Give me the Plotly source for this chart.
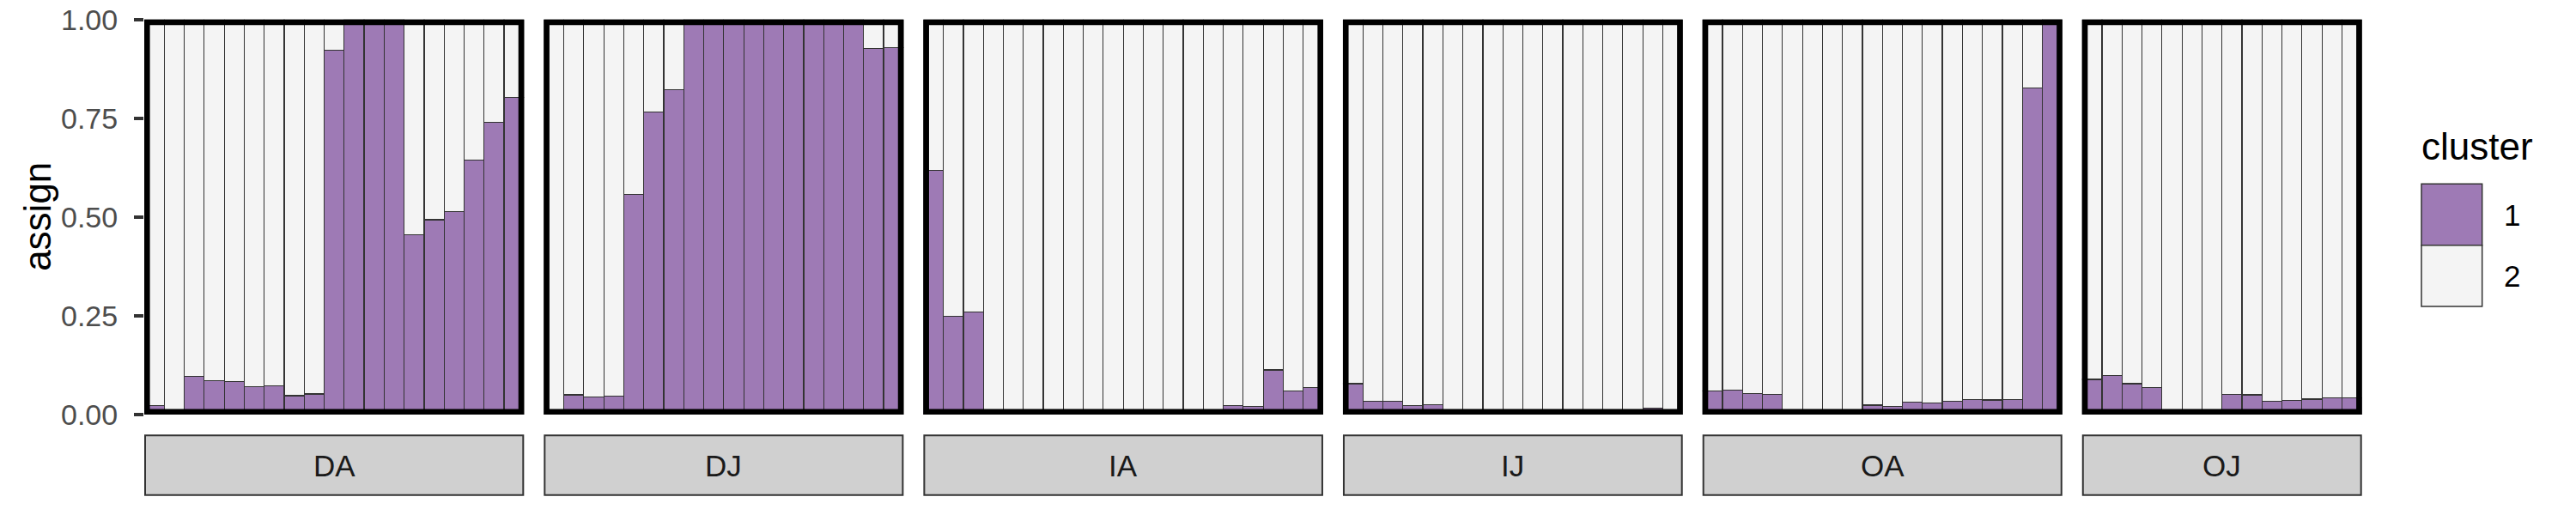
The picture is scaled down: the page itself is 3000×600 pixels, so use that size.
import plotly.graph_objects as go

# ---------------- data ----------------
facets = ["DA", "DJ", "IA", "IJ", "OA", "OJ"]

da_c1 = [0.023, 0.0, 0.096, 0.085, 0.084, 0.071, 0.072, 0.048, 0.052, 0.923,
         1.0, 1.0, 1.0, 0.455, 0.493, 0.513, 0.645, 0.739, 0.803]
da_c2 = [0.977, 1.0, 0.904, 0.915, 0.916, 0.929, 0.928, 0.952, 0.948, 0.077,
         0.0, 0.0, 0.0, 0.545, 0.507, 0.487, 0.355, 0.261, 0.197]

dj_c1 = [0.0, 0.050, 0.044, 0.046, 0.558, 0.766, 0.823, 1.0, 1.0, 1.0,
         1.0, 1.0, 1.0, 1.0, 1.0, 1.0, 0.927, 0.929]
dj_c2 = [1.0, 0.950, 0.956, 0.954, 0.442, 0.234, 0.177, 0.0, 0.0, 0.0,
         0.0, 0.0, 0.0, 0.0, 0.0, 0.0, 0.073, 0.071]

ia_c1 = [0.618, 0.248, 0.259, 0.0, 0.0, 0.0, 0.0, 0.0, 0.0, 0.0,
         0.0, 0.0, 0.0, 0.0, 0.0, 0.023, 0.020, 0.113, 0.060, 0.068]
ia_c2 = [0.382, 0.752, 0.741, 1.0, 1.0, 1.0, 1.0, 1.0, 1.0, 1.0,
         1.0, 1.0, 1.0, 1.0, 1.0, 0.977, 0.980, 0.887, 0.940, 0.932]

ij_c1 = [0.078, 0.033, 0.033, 0.022, 0.025, 0.0, 0.0, 0.0, 0.0, 0.0,
         0.0, 0.0, 0.0, 0.0, 0.0, 0.017, 0.0]
ij_c2 = [0.922, 0.967, 0.967, 0.978, 0.975, 1.0, 1.0, 1.0, 1.0, 1.0,
         1.0, 1.0, 1.0, 1.0, 1.0, 0.983, 1.0]

oa_c1 = [0.059, 0.062, 0.053, 0.051, 0.0, 0.0, 0.0, 0.0, 0.024, 0.020,
         0.032, 0.030, 0.034, 0.038, 0.037, 0.038, 0.827, 1.0]
oa_c2 = [0.941, 0.938, 0.947, 0.949, 1.0, 1.0, 1.0, 1.0, 0.976, 0.980,
         0.968, 0.970, 0.966, 0.962, 0.963, 0.962, 0.173, 0.0]

oj_c1 = [0.089, 0.099, 0.078, 0.068, 0.0, 0.0, 0.0, 0.051, 0.050, 0.033,
         0.035, 0.039, 0.042, 0.043]
oj_c2 = [0.911, 0.901, 0.922, 0.932, 1.0, 1.0, 1.0, 0.949, 0.950, 0.967,
         0.965, 0.961, 0.958, 0.957]

cluster_names = ["1", "2"]
y_tickvals = [0.0, 0.25, 0.5, 0.75, 1.0]
y_ticktext = ["0.00", "0.25", "0.50", "0.75", "1.00"]

series = {
    "DA": (da_c1, da_c2),
    "DJ": (dj_c1, dj_c2),
    "IA": (ia_c1, ia_c2),
    "IJ": (ij_c1, ij_c2),
    "OA": (oa_c1, oa_c2),
    "OJ": (oj_c1, oj_c2),
}

# ---------------- style / layout ----------------
W, H = 3000, 600
PURPLE = "#9e7ab5"
LIGHT = "#f4f4f4"
EDGE = "#333333"
FONT = "Liberation Sans, Arial, sans-serif"
colors = [PURPLE, LIGHT]

BAR_W = 23.28      # px per bar
GAP = 23.0         # px between panels
LEFT = 168.0       # px, left edge of first panel
P_TOP, P_BOT = 22.7, 483.0
S_TOP, S_BOT = 507.3, 576.7
BORDER = 6.6


def fx(p):
    return p / W


def fy(p):
    return 1 - p / H


fig = go.Figure()
layout = {}
shapes = []
annotations = []

x0 = LEFT
for i, f in enumerate(facets):
    c1, c2 = series[f]
    n = len(c1)
    x1 = x0 + n * BAR_W
    sfx = "" if i == 0 else str(i + 1)
    idx = list(range(1, n + 1))
    for k, vals in enumerate((c1, c2)):
        fig.add_trace(go.Bar(
            x=idx, y=vals, width=1.0,
            name=cluster_names[k],
            marker=dict(color=colors[k], line=dict(color=EDGE, width=1.2)),
            xaxis="x" + sfx, yaxis="y" + sfx,
            showlegend=False,
        ))
    layout["xaxis" + sfx] = dict(domain=[fx(x0), fx(x1)], range=[0.5, n + 0.5],
                                 visible=False, anchor="y" + sfx, fixedrange=True,
                                 automargin=False)
    ya = dict(domain=[fy(P_BOT), fy(P_TOP)], range=[0, 1], anchor="x" + sfx,
              showgrid=False, zeroline=False, showline=False, fixedrange=True,
              automargin=False)
    if i == 0:
        ya.update(tickmode="array", tickvals=y_tickvals, ticktext=y_ticktext,
                  ticks="outside", ticklen=11, tickwidth=4, tickcolor=EDGE,
                  tickfont=dict(family=FONT, size=34, color="#4d4d4d"),
                  ticklabelstandoff=12, ticklabeloverflow="allow")
    else:
        ya.update(showticklabels=False, ticks="")
    layout["yaxis" + sfx] = ya

    # panel border (clipped look: only inner half visible)
    shapes.append(dict(type="rect", xref="paper", yref="paper",
                       x0=fx(x0 + BORDER / 2), x1=fx(x1 - BORDER / 2),
                       y0=fy(P_BOT - BORDER / 2), y1=fy(P_TOP + BORDER / 2),
                       line=dict(color="black", width=BORDER), fillcolor="rgba(0,0,0,0)",
                       layer="above"))
    # strip
    shapes.append(dict(type="rect", xref="paper", yref="paper",
                       x0=fx(x0 + 1), x1=fx(x1 - 1), y0=fy(S_BOT), y1=fy(S_TOP),
                       line=dict(color=EDGE, width=2), fillcolor="#d0d0d0",
                       layer="above"))
    annotations.append(dict(text=f, x=fx((x0 + x1) / 2), y=fy((S_TOP + S_BOT) / 2),
                            xref="paper", yref="paper", showarrow=False,
                            xanchor="center", yanchor="middle",
                            font=dict(family=FONT, size=35, color="#1a1a1a")))
    x0 = x1 + GAP

# y-axis title
annotations.append(dict(text="assign", x=fx(44), y=fy((P_TOP + P_BOT) / 2),
                        xref="paper", yref="paper", showarrow=False, textangle=-90,
                        xanchor="center", yanchor="middle",
                        font=dict(family=FONT, size=44, color="black")))

# legend (drawn manually, ggplot style)
LEG_X0, LEG_X1 = 2820.0, 2890.7
KEY_TOPS = [214.3, 285.7]
KEY_H = 71.4
annotations.append(dict(text="cluster", x=fx(LEG_X0 - 2), y=fy(171),
                        xref="paper", yref="paper", showarrow=False,
                        xanchor="left", yanchor="middle",
                        font=dict(family=FONT, size=44, color="black")))
for k, name in enumerate(cluster_names):
    t = KEY_TOPS[k]
    shapes.append(dict(type="rect", xref="paper", yref="paper",
                       x0=fx(LEG_X0), x1=fx(LEG_X1), y0=fy(t + KEY_H), y1=fy(t),
                       line=dict(color=EDGE, width=1.5), fillcolor=colors[k]))
    annotations.append(dict(text=name, x=fx(2914), y=fy(t + KEY_H / 2),
                            xref="paper", yref="paper", showarrow=False,
                            xanchor="left", yanchor="middle",
                            font=dict(family=FONT, size=35, color="black")))

fig.update_layout(
    width=W, height=H,
    margin=dict(l=0, r=0, t=0, b=0, autoexpand=False),
    paper_bgcolor="white", plot_bgcolor="white",
    barmode="stack", bargap=0,
    showlegend=False,
    shapes=shapes, annotations=annotations,
    **layout,
)

# remove the page's default body margin so the figure sits at the window's corner
fig.write_html("out.html", config={"displayModeBar": False, "staticPlot": True},
               post_script="document.body.style.margin='0';")
